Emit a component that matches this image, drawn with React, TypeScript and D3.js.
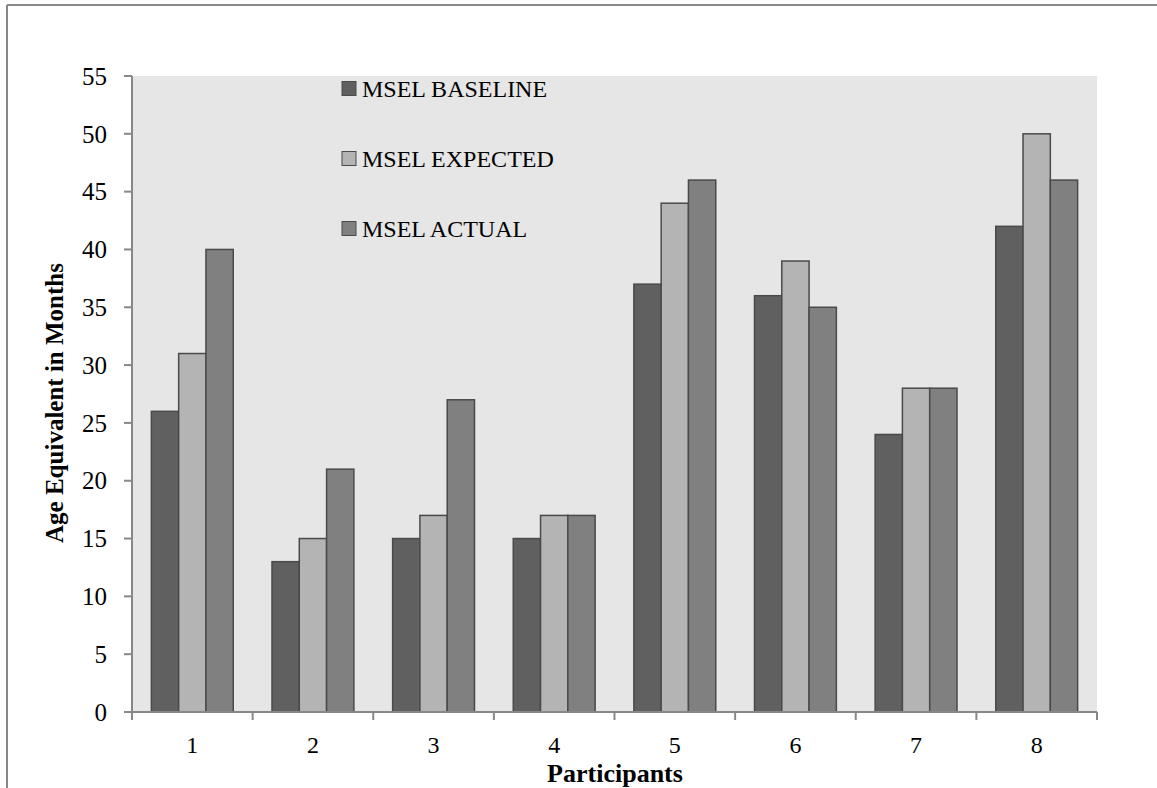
import React from "react";
import * as d3 from "d3";

const participants = ["1", "2", "3", "4", "5", "6", "7", "8"];
const seriesNames = ["MSEL BASELINE", "MSEL EXPECTED", "MSEL ACTUAL"];
const baseline = [26, 13, 15, 15, 37, 36, 24, 42];
const expected = [31, 15, 17, 17, 44, 39, 28, 50];
const actual = [40, 21, 27, 17, 46, 35, 28, 46];
const yTicks = [0, 5, 10, 15, 20, 25, 30, 35, 40, 45, 50, 55];

const fills = ["#606060", "#b4b4b4", "#808080"];
const font = "'Liberation Serif', 'DejaVu Serif', serif";

export default function App() {
  const W = 1157;
  const H = 788;
  const left = 132;
  const right = 1097;
  const top = 76;
  const bottom = 712;

  const series = [baseline, expected, actual];

  const x = d3.scaleBand<string>().domain(participants).range([left, right]);
  const inner = d3
    .scaleBand<number>()
    .domain([0, 1, 2])
    .range([0, x.bandwidth()])
    .paddingInner(0)
    .paddingOuter(0.71);
  const y = d3.scaleLinear().domain([0, 55]).range([bottom, top]);

  const boundaries = participants.map((p) => x(p) as number).concat([right]);

  return (
    <svg
      width={W}
      height={H}
      style={{ position: "absolute", left: 0, top: 0, background: "#fff" }}
    >
      {/* outer frame */}
      <line x1={7} y1={5} x2={W} y2={5} stroke="#888" strokeWidth={2} />
      <line x1={7} y1={5} x2={7} y2={H} stroke="#888" strokeWidth={2} />

      {/* plot area */}
      <rect x={left} y={top} width={right - left} height={bottom - top} fill="#e6e6e6" />

      {/* bars */}
      {series.map((vals, si) =>
        vals.map((v, i) => {
          const bx = (x(participants[i]) as number) + (inner(si) as number);
          return (
            <rect
              key={`${si}-${i}`}
              x={bx}
              y={y(v)}
              width={inner.bandwidth()}
              height={bottom - y(v)}
              fill={fills[si]}
              stroke="#4a4a4a"
              strokeWidth={1.5}
            />
          );
        })
      )}

      {/* y axis */}
      <line x1={left} y1={top} x2={left} y2={bottom} stroke="#888" strokeWidth={2} />
      {yTicks.map((t) => (
        <g key={t}>
          <line x1={left - 8} y1={y(t)} x2={left} y2={y(t)} stroke="#888" strokeWidth={2} />
          <text
            x={107}
            y={y(t)}
            dy="0.35em"
            textAnchor="end"
            fontFamily={font}
            fontSize={25}
            fill="#000"
          >
            {t}
          </text>
        </g>
      ))}

      {/* x axis */}
      <line x1={left} y1={bottom} x2={right} y2={bottom} stroke="#888" strokeWidth={2} />
      {boundaries.map((bx, i) => (
        <line key={i} x1={bx} y1={bottom} x2={bx} y2={bottom + 8} stroke="#888" strokeWidth={2} />
      ))}
      {participants.map((p) => (
        <text
          key={p}
          x={(x(p) as number) + x.bandwidth() / 2}
          y={753}
          textAnchor="middle"
          fontFamily={font}
          fontSize={24}
          fill="#000"
        >
          {p}
        </text>
      ))}

      {/* axis titles */}
      <text
        x={615}
        y={782}
        textAnchor="middle"
        fontFamily={font}
        fontSize={26}
        fontWeight="bold"
        fill="#000"
      >
        Participants
      </text>
      <text
        transform={`translate(63, 403) rotate(-90)`}
        textAnchor="middle"
        fontFamily={font}
        fontSize={25}
        fontWeight="bold"
        fill="#000"
      >
        Age Equivalent in Months
      </text>

      {/* legend */}
      {seriesNames.map((name, i) => {
        const cy = 88.5 + i * 70;
        return (
          <g key={name}>
            <rect
              x={342}
              y={cy - 7}
              width={14}
              height={14}
              fill={fills[i]}
              stroke="#4a4a4a"
              strokeWidth={1}
            />
            <text
              x={362}
              y={cy}
              dy="0.35em"
              fontFamily={font}
              fontSize={24}
              fill="#000"
            >
              {name}
            </text>
          </g>
        );
      })}
    </svg>
  );
}
